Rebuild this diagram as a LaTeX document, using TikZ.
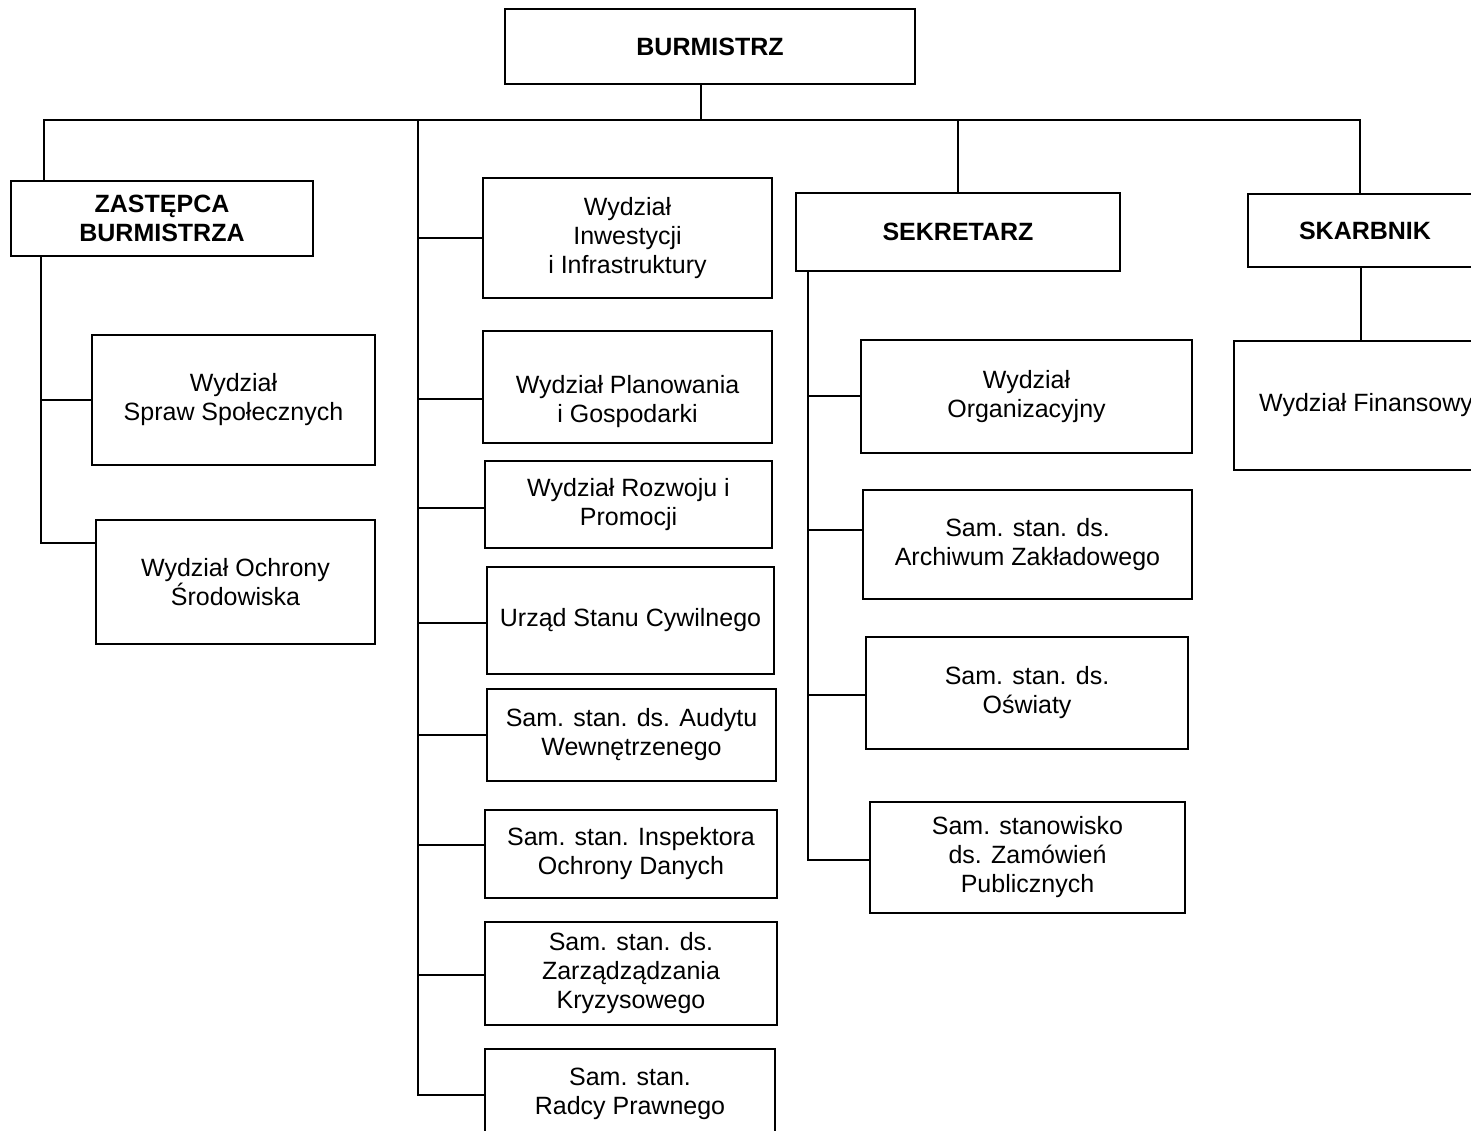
\documentclass[tikz,border=0pt]{standalone}
\usepackage{fontspec}
\setmainfont{Liberation Sans}
\begin{document}
\begin{tikzpicture}[x=1pt,y=-1pt,line width=2pt,
  box/.style={draw, rectangle, inner sep=0pt, align=center, font=\fontsize{25}{29}\selectfont},
  head/.style={box, font=\fontsize{25}{29}\selectfont\bfseries},
  txt/.style={inner sep=0pt, align=center, font=\fontsize{25}{29}\selectfont},
  conn/.style={line join=miter}]
\useasboundingbox (0,0) rectangle (1471,1130);
\clip (0,0) rectangle (1471,1130);
\fill[white] (0,0) rectangle (1471,1130);

% top
\node[head, minimum width=410pt, minimum height=75pt] (burm) at (710,46.5) {BURMISTRZ};

% left column
\node[head, minimum width=302pt, minimum height=75pt] (zast) at (162,218.5) {ZASTĘPCA\\BURMISTRZA};
\node[box, minimum width=283pt, minimum height=130pt] (wss) at (233.5,400) {Wydział\\Spraw Społecznych};
\node[box, minimum width=279pt, minimum height=124pt] (wos) at (235.5,582) {Wydział Ochrony\\Środowiska};

% middle column
\node[box, minimum width=289pt, minimum height=120pt] (wii) at (627.5,238) {Wydział\\Inwestycji\\i Infrastruktury};
\node[box, minimum width=289pt, minimum height=112pt] (wpg) at (627.5,387) {};
\node[txt] (wpgt) at (627.5,402) {Wydział Planowania\\i Gospodarki};
\node[box, minimum width=287pt, minimum height=87pt] (wrp) at (628.5,504.5) {Wydział Rozwoju i\\Promocji};
\node[box, minimum width=287pt, minimum height=107pt] (usc) at (630.5,620.5) {Urząd Stanu Cywilnego};
\node[box, minimum width=289pt, minimum height=92pt] (aud) at (631.5,735) {Sam. stan. ds. Audytu\\Wewnętrzenego};
\node[box, minimum width=292pt, minimum height=88pt] (iod) at (631,854) {Sam. stan. Inspektora\\Ochrony Danych};
\node[box, minimum width=292pt, minimum height=103pt] (zk) at (631,973.5) {Sam. stan. ds.\\Zarządządzania\\Kryzysowego};
\node[box, minimum width=290pt, minimum height=90pt] (rp) at (630,1094) {Sam. stan.\\Radcy Prawnego};

% sekretarz column
\node[head, minimum width=324pt, minimum height=78pt] (sek) at (958,232) {SEKRETARZ};
\node[box, minimum width=331pt, minimum height=113pt] (org) at (1026.5,396.5) {Wydział\\Organizacyjny};
\node[box, minimum width=329pt, minimum height=109pt] (arch) at (1027.5,544.5) {Sam. stan. ds.\\Archiwum Zakładowego};
\node[box, minimum width=322pt, minimum height=112pt] (osw) at (1027,693) {Sam. stan. ds.\\Oświaty};
\node[box, minimum width=315pt, minimum height=111pt] (zp) at (1027.5,857.5) {Sam. stanowisko\\ds. Zamówień\\Publicznych};

% skarbnik column
\node[head, minimum width=234pt, minimum height=73pt] (ska) at (1365,230.5) {SKARBNIK};
\node[box, minimum width=264pt, minimum height=129pt] (fin) at (1366,405.5) {Wydział Finansowy};

% connectors
\coordinate (busL) at (44,120);
\coordinate (busR) at (1360,120);
\coordinate (busC) at (701,120);
\coordinate (tA) at (418,120);
\coordinate (sB) at (958,120);

\draw[conn] (burm.south -| busC) -- (busC);
\draw[conn] (zast.north -| busL) -- (busL) -- (busR) -- (busR |- ska.north);
\draw[conn] (sB) -- (sek.north -| sB);
\draw[conn] (ska.south -| 1361,0) -- (fin.north -| 1361,0);

% left trunk
\draw[conn] (zast.south -| 41,0) -- (41,543) -- (wos.west |- 0,543);
\draw[conn] (41,400) -- (wss.west |- 0,400);

% middle trunk
\draw[conn] (tA) -- (418,1095) -- (rp.west |- 0,1095);
\draw[conn] (418,238) -- (wii.west |- 0,238);
\draw[conn] (418,399) -- (wpg.west |- 0,399);
\draw[conn] (418,508) -- (wrp.west |- 0,508);
\draw[conn] (418,623) -- (usc.west |- 0,623);
\draw[conn] (418,735) -- (aud.west |- 0,735);
\draw[conn] (418,845) -- (iod.west |- 0,845);
\draw[conn] (418,975) -- (zk.west |- 0,975);

% sekretarz trunk
\draw[conn] (sek.south -| 808,0) -- (808,860) -- (zp.west |- 0,860);
\draw[conn] (808,396) -- (org.west |- 0,396);
\draw[conn] (808,530) -- (arch.west |- 0,530);
\draw[conn] (808,695) -- (osw.west |- 0,695);
\end{tikzpicture}
\end{document}
